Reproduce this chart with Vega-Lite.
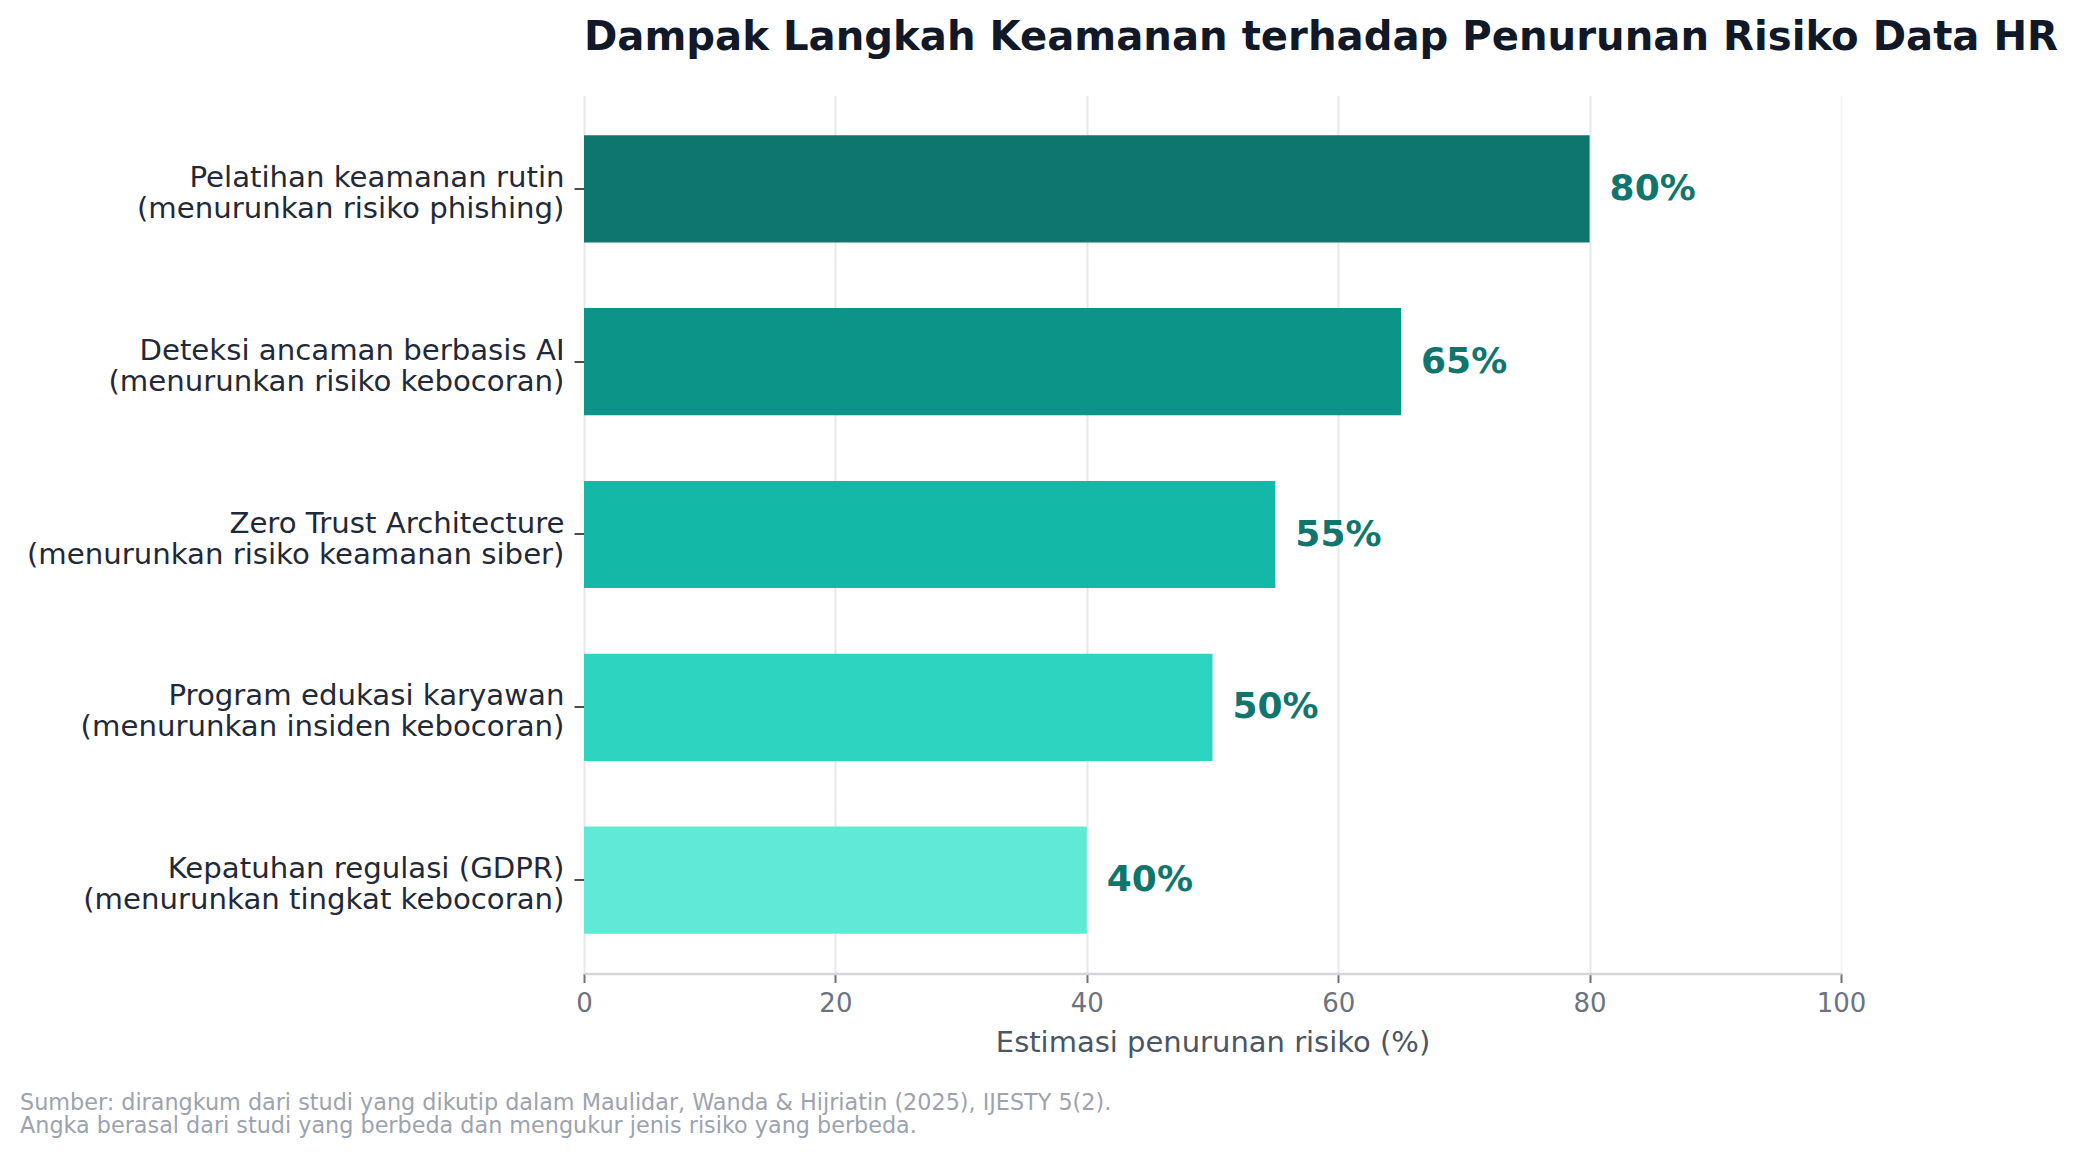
{
  "$schema": "https://vega.github.io/schema/vega-lite/v6.json",
  "background": "white",
  "padding": {"left": 20, "top": 17.5, "right": 10, "bottom": 10},
  "config": {
    "font": "DejaVu Sans",
    "view": {"stroke": null},
    "concat": {"spacing": 0}
  },
  "title": {
    "text": [
      "Sumber: dirangkum dari studi yang dikutip dalam Maulidar, Wanda & Hijriatin (2025), IJESTY 5(2).",
      "Angka berasal dari studi yang berbeda dan mengukur jenis risiko yang berbeda."
    ],
    "orient": "bottom",
    "anchor": "start",
    "frame": "bounds",
    "fontSize": 22.3,
    "fontWeight": "normal",
    "color": "#9ca3af",
    "lineHeight": 23,
    "offset": 34.5
  },
  "vconcat": [
    {
      "width": 1257,
      "height": 878,
      "title": {
        "text": "Dampak Langkah Keamanan terhadap Penurunan Risiko Data HR",
        "anchor": "start",
        "frame": "group",
        "fontSize": 40.2,
        "fontWeight": "bold",
        "color": "#111827",
        "offset": 37.5
      },
      "data": {
        "values": [
          {"measure": "Pelatihan keamanan rutin\n(menurunkan risiko phishing)", "value": 80, "label": "80%"},
          {"measure": "Deteksi ancaman berbasis AI\n(menurunkan risiko kebocoran)", "value": 65, "label": "65%"},
          {"measure": "Zero Trust Architecture\n(menurunkan risiko keamanan siber)", "value": 55, "label": "55%"},
          {"measure": "Program edukasi karyawan\n(menurunkan insiden kebocoran)", "value": 50, "label": "50%"},
          {"measure": "Kepatuhan regulasi (GDPR)\n(menurunkan tingkat kebocoran)", "value": 40, "label": "40%"}
        ]
      },
      "encoding": {
        "y": {
          "field": "measure",
          "type": "nominal",
          "sort": null,
          "scale": {"paddingInner": 0.38, "paddingOuter": 0.23},
          "axis": {
            "title": null,
            "labelExpr": "split(datum.label, '\\n')",
            "labelFontSize": 29.2,
            "labelColor": "#1f2937",
            "labelLineHeight": 31,
            "labelLimit": 0,
            "labelPadding": 10,
            "labelOffset": -11,
            "tickColor": "#111111",
            "tickSize": 10,
            "tickWidth": 1.5,
            "domain": false,
            "grid": false,
            "minExtent": 564,
            "maxExtent": 564
          }
        }
      },
      "layer": [
        {
          "mark": {"type": "bar"},
          "encoding": {
            "x": {
              "field": "value",
              "type": "quantitative",
              "scale": {"domain": [0, 100], "nice": false},
              "axis": {
                "title": "Estimasi penurunan risiko (%)",
                "titleFontSize": 29,
                "titleFontWeight": "normal",
                "titleColor": "#4b5563",
                "titlePadding": 12,
                "values": [0, 20, 40, 60, 80, 100],
                "labelFontSize": 26,
                "labelColor": "#6b7280",
                "labelPadding": 8,
                "labelFlush": false,
                "tickColor": "#6b7280",
                "tickSize": 9,
                "tickWidth": 2,
                "domainColor": "#d1d5db",
                "domainWidth": 2.5,
                "grid": true,
                "gridColor": {"condition": {"test": "datum.value === 100", "value": "#f3f4f6"}, "value": "#e5e7eb"},
                "gridWidth": 2
              }
            },
            "color": {
              "field": "measure",
              "type": "nominal",
              "sort": null,
              "legend": null,
              "scale": {
                "domain": [
                  "Pelatihan keamanan rutin\n(menurunkan risiko phishing)",
                  "Deteksi ancaman berbasis AI\n(menurunkan risiko kebocoran)",
                  "Zero Trust Architecture\n(menurunkan risiko keamanan siber)",
                  "Program edukasi karyawan\n(menurunkan insiden kebocoran)",
                  "Kepatuhan regulasi (GDPR)\n(menurunkan tingkat kebocoran)"
                ],
                "range": ["#0f766e", "#0d9488", "#14b8a6", "#2dd4bf", "#5eead4"]
              }
            }
          }
        },
        {
          "mark": {
            "type": "text",
            "align": "left",
            "baseline": "middle",
            "dx": 20,
            "fontSize": 36,
            "fontWeight": "bold",
            "color": "#0f766e"
          },
          "encoding": {
            "x": {"field": "value", "type": "quantitative"},
            "text": {"field": "label", "type": "nominal"}
          }
        }
      ]
    }
  ]
}
